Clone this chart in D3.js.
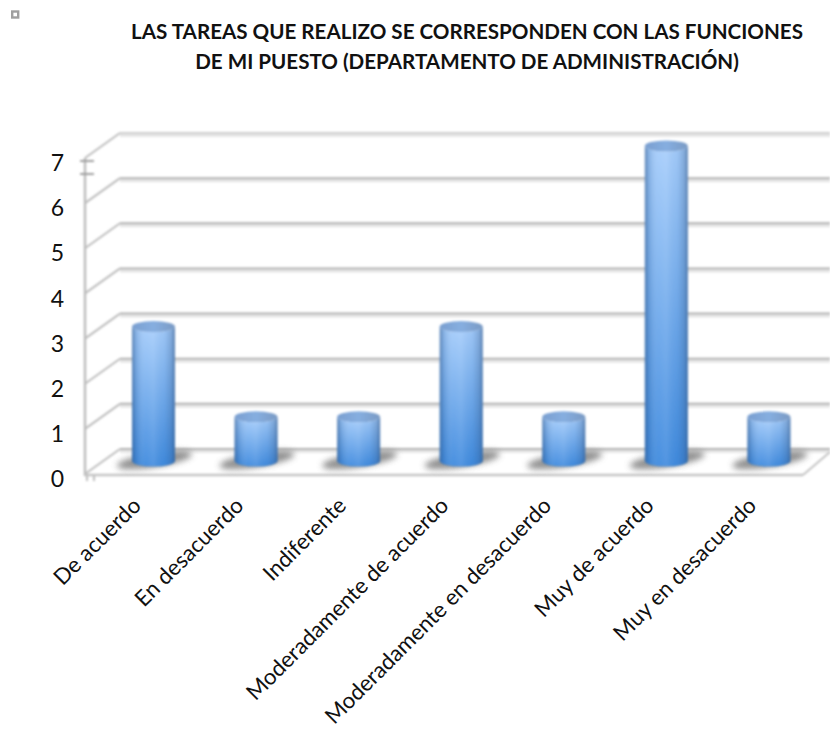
<!DOCTYPE html>
<html><head><meta charset="utf-8">
<style>html,body{margin:0;padding:0;background:#fff}svg{display:block}text{font-family:Lato,"Open Sans",sans-serif;fill:#111}</style>
<script src="https://cdn.jsdelivr.net/npm/d3@7"></script></head>
<body><div id="c"></div>
<script>
const titleLines = ["LAS TAREAS QUE REALIZO SE CORRESPONDEN CON LAS FUNCIONES","DE MI PUESTO (DEPARTAMENTO DE ADMINISTRACIÓN)"];
const categories = ["De acuerdo","En desacuerdo","Indiferente","Moderadamente de acuerdo","Moderadamente en desacuerdo","Muy de acuerdo","Muy en desacuerdo"];
const values = [3,1,1,3,1,7,1];
const yTicks = [0,1,2,3,4,5,6,7];

const W=830,H=733;
const dx=35, dy=-25;
const svg=d3.select("#c").append("svg").attr("width",W).attr("height",H);
const defs=svg.append("defs");
const x=d3.scaleBand().domain(categories).range([85,803]);
const y=d3.scaleLinear().domain([0,7]).range([474,158]);

const f=defs.append("filter").attr("id","soft").attr("x","-10%").attr("y","-10%").attr("width","120%").attr("height","120%");
f.append("feGaussianBlur").attr("stdDeviation",0.8);
const f2=defs.append("filter").attr("id","shadow").attr("x","-30%").attr("y","-60%").attr("width","160%").attr("height","220%");
f2.append("feGaussianBlur").attr("stdDeviation",3.2);
const gv=defs.append("linearGradient").attr("id","gv").attr("x1",0).attr("y1",0).attr("x2",0).attr("y2",1);
gv.append("stop").attr("offset",0).attr("stop-color","#a6cdfb");
gv.append("stop").attr("offset",1).attr("stop-color","#3f8ade");
const gh=defs.append("linearGradient").attr("id","gh");
[[0,"#2b4f7e",0.55],[0.1,"#2b5c96",0.22],[0.32,"#ffffff",0.05],[0.5,"#ffffff",0.1],[0.75,"#2b5c96",0.06],[0.92,"#2b4f7e",0.28],[1,"#2b4f7e",0.6]]
 .forEach(s=>gh.append("stop").attr("offset",s[0]).attr("stop-color",s[1]).attr("stop-opacity",s[2]));
const gt=defs.append("linearGradient").attr("id","gt");
gt.append("stop").attr("offset",0).attr("stop-color","#7a9fd0");
gt.append("stop").attr("offset",0.5).attr("stop-color","#86aee0");
gt.append("stop").attr("offset",1).attr("stop-color","#7a9ac4");

// walls and floor
const grid=svg.append("g").attr("filter","url(#soft)");
const frontX=x.range()[0], backX=frontX+dx;
const lineColor="#b0b0b0";
grid.selectAll("line.halo").data(yTicks).join("line").attr("class","halo")
 .attr("x1",backX).attr("x2",W).attr("y1",d=>y(d)+dy+2.5).attr("y2",d=>y(d)+dy+2.5)
 .attr("stroke","#e6e6e6").attr("stroke-width",3);
grid.selectAll("line.back").data(yTicks).join("line").attr("class","back")
 .attr("x1",backX).attr("x2",W).attr("y1",d=>y(d)+dy).attr("y2",d=>y(d)+dy)
 .attr("stroke",d=>d===7?"#cfcfcf":lineColor).attr("stroke-width",2);
grid.selectAll("line.diag").data(yTicks).join("line").attr("class","diag")
 .attr("x1",frontX).attr("x2",backX).attr("y1",d=>y(d)).attr("y2",d=>y(d)+dy)
 .attr("stroke","#bdbdbd").attr("stroke-width",2);
grid.append("line").attr("x1",frontX).attr("x2",frontX).attr("y1",y(7)).attr("y2",y(0)+2).attr("stroke","#bdbdbd").attr("stroke-width",2.5);
grid.append("line").attr("x1",frontX).attr("x2",x.range()[1]).attr("y1",y(0)+1).attr("y2",y(0)+1).attr("stroke","#c4c4c4").attr("stroke-width",2.5);
grid.append("line").attr("x1",x.range()[1]).attr("x2",W).attr("y1",y(0)+1).attr("y2",y(0)+dy+3).attr("stroke","#c4c4c4").attr("stroke-width",2);
// stray tick marks
[161,174].forEach(v=>grid.append("line").attr("x1",80).attr("x2",94).attr("y1",v).attr("y2",v).attr("stroke","#969696").attr("stroke-width",1.8));
[87,94].forEach(v=>grid.append("line").attr("x1",v).attr("x2",v).attr("y1",476).attr("y2",481).attr("stroke","#b0b0b0").attr("stroke-width",1.6));

// small marker top-left
svg.append("rect").attr("x",12.2).attr("y",11.5).attr("width",6).attr("height",6).attr("fill","#fff").attr("stroke","#a0a0a0").attr("stroke-width",2.4);

// bars
const barW=43, barRy=5.5, barOff=17.2, topOff=-12, baseOff=-13;
const cx=d=>x(d)+x.bandwidth()/2+barOff;
const bars=svg.append("g").selectAll("g").data(categories.map((c,i)=>({c,v:values[i]}))).join("g");
bars.append("ellipse").attr("cx",d=>cx(d.c)+1).attr("cy",y(0)+baseOff-1)
 .attr("rx",38).attr("ry",7).attr("fill","#7c7c7c").attr("opacity",0.85)
 .attr("transform",d=>`rotate(-9 ${cx(d.c)+1} ${y(0)+baseOff-1})`).attr("filter","url(#shadow)");
const bodyPath=d=>{
  const c=cx(d.c), t=y(d.v)+topOff, b=y(0)+baseOff, r=barW/2;
  return `M${c-r},${t}L${c-r},${b}A${r},${barRy} 0 0 0 ${c+r},${b}L${c+r},${t}A${r},${barRy} 0 0 1 ${c-r},${t}Z`;
};
const g2=bars.append("g").attr("filter","url(#soft)");
g2.append("path").attr("d",bodyPath).attr("fill","url(#gv)");
g2.append("path").attr("d",bodyPath).attr("fill","url(#gh)");
g2.append("ellipse").attr("cx",d=>cx(d.c)).attr("cy",d=>y(d.v)+topOff).attr("rx",barW/2).attr("ry",barRy).attr("fill","url(#gt)");

// axes
const ay=svg.append("g").attr("transform",`translate(${frontX},0)`)
 .call(d3.axisLeft(y).tickValues(yTicks).tickSize(0).tickPadding(21).tickFormat(d3.format("d")));
ay.select(".domain").remove();
ay.selectAll("text").attr("font-size",23).style("font-family","Lato").attr("dy","0.55em");

const ax=svg.append("g").attr("transform",`translate(0,${y(0)})`)
 .call(d3.axisBottom(x).tickSize(0));
ax.select(".domain").remove();
ax.selectAll("text").attr("font-size",22.2).attr("text-anchor","end").attr("dy",0).attr("y",0)
 .attr("transform","translate(6,33) rotate(-45)");

// title
svg.append("g").selectAll("text").data(titleLines).join("text")
 .attr("x",467).attr("y",(d,i)=>39+i*30).attr("text-anchor","middle")
 .attr("font-size",20.6).attr("font-weight",700).text(d=>d);
</script></body></html>
